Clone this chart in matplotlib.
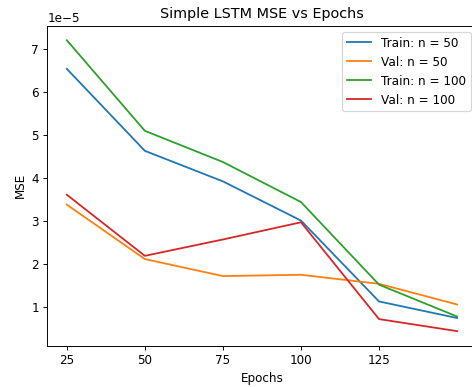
import matplotlib
matplotlib.use("Agg")
import matplotlib.pyplot as plt

# epochs and MSE values (units of 1e-5)
epochs = [25, 50, 75, 100, 125, 150]
train_50 = [6.535, 4.63, 3.92, 3.01, 1.13, 0.745]
val_50 = [3.38, 2.115, 1.72, 1.75, 1.54, 1.06]
train_100 = [7.20, 5.095, 4.37, 3.44, 1.52, 0.78]
val_100 = [3.61, 2.19, 2.57, 2.97, 0.72, 0.44]
tick_epochs = [25, 50, 75, 100, 125]

scale = 1e-5
DPI = 86.6

fig = plt.figure(figsize=(472.01 / DPI, 387.01 / DPI), dpi=DPI)
ax = fig.add_axes([47.3 / 472, (387 - 345.7) / 387, 429.3 / 472, 320 / 387])

ax.plot(epochs, [v * scale for v in train_50], label='Train: n = 50')
ax.plot(epochs, [v * scale for v in val_50], label='Val: n = 50')
ax.plot(epochs, [v * scale for v in train_100], label='Train: n = 100')
ax.plot(epochs, [v * scale for v in val_100], label='Val: n = 100')

ax.set_xticks(tick_epochs)
ax.set_xlabel('Epochs')
ax.set_ylabel('MSE')
ax.set_title('Simple LSTM MSE vs Epochs')
ax.legend(loc='upper right')

fig.savefig('out.png', dpi=DPI)
